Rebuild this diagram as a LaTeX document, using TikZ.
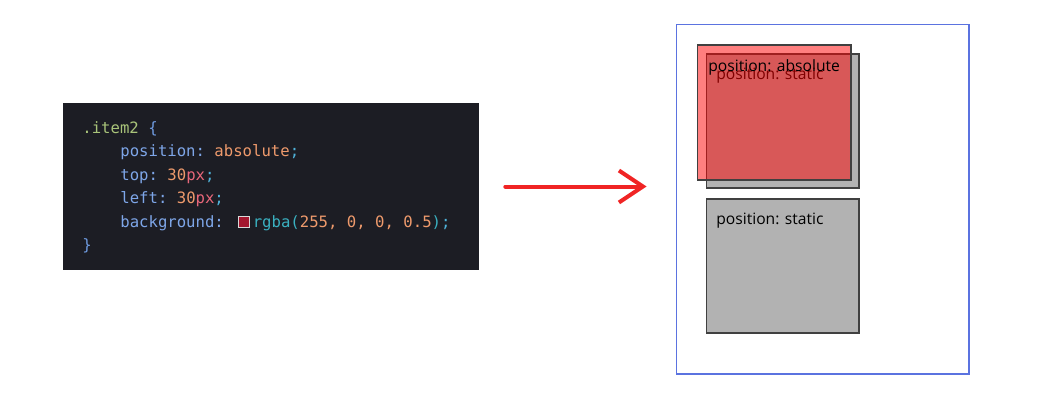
\documentclass[tikz,border=0pt]{standalone}
\usepackage{fontspec}
\setsansfont{Open Sans}
\setmonofont{DejaVu Sans Mono}
\usetikzlibrary{arrows.meta}
\definecolor{panel}{HTML}{1C1D24}
\definecolor{selgreen}{HTML}{A9C47A}
\definecolor{punct}{HTML}{6F9BE0}
\definecolor{prop}{HTML}{7EA6E8}
\definecolor{val}{HTML}{EE9A6C}
\definecolor{unit}{HTML}{E8677A}
\definecolor{semi}{HTML}{4FB3DA}
\definecolor{func}{HTML}{3AB0C0}
\definecolor{swatch}{HTML}{A3162E}
\definecolor{pageblue}{HTML}{5B73E0}
\definecolor{pen}{HTML}{F02424}
\newcommand{\swatchbox}{{\fboxsep=0pt\fboxrule=0.4pt\hspace{0.28cm}\fcolorbox{white!85!black}{swatch}{\rule{0pt}{0.21cm}\rule{0.21cm}{0pt}}\hspace{0.06cm}}}
\begin{document}
\begin{tikzpicture}[x=0.02cm,y=-0.02cm,
  box/.style={draw=black!75,line width=0.6pt,inner sep=0pt,minimum width=3.06cm,minimum height=2.68cm},
  code/.style={anchor=base west,inner sep=0pt,font=\ttfamily\fontsize{8.9}{10}\selectfont},
  lbl/.style={anchor=base west,inner sep=0pt,font=\sffamily\fontsize{8.9}{10}\selectfont}]
\useasboundingbox (0,0) rectangle (1043,406);
\node[fill=panel,inner sep=0pt,minimum width=8.32cm,minimum height=3.34cm] (code) at (271,186.5) {};
\node[code] (sel) at (82,133) {\color{selgreen}.item2 \color{punct}\{};
\node[code] (pos) at (120,156.5) {\color{prop}position: \color{val}absolute\color{semi};};
\node[code] (top) at (120,180) {\color{prop}top: \color{val}30\color{unit}px\color{semi};};
\node[code] (left) at (120,203.5) {\color{prop}left: \color{val}30\color{unit}px\color{semi};};
\node[code] (bg) at (120,227) {\color{prop}background:\swatchbox\color{func}rgba(\color{val}255, 0, 0, 0.5\color{func})\color{semi};};
\node[code] (close) at (82,250.5) {\color{punct}\}};

\node[draw=pageblue,line width=0.6pt,inner sep=0pt,minimum width=5.86cm,minimum height=7cm] (page) at (822.5,199) {};
\node[box,fill=black!30] (first) at (782.5,121) {};
\node[lbl] (firsttext) at (716,79) {position: static};
\node[box,fill=red,fill opacity=0.5,minimum width=3.08cm,minimum height=2.7cm] (item2) at (774,112.5) {};
\node[lbl] (item2text) at (708,71) {position: absolute};
\node[box,fill=black!30] (third) at (782.5,266) {};
\node[lbl] (thirdtext) at (716,224) {position: static};

\draw[pen,line width=0.08cm,line cap=round,shorten <=0.52cm,shorten >=0.58cm,
  -{Straight Barb[length=0.48cm,width=0.64cm,line width=0.08cm]}]
  (code.east) -- (code.east -| page.west);
\end{tikzpicture}
\end{document}
